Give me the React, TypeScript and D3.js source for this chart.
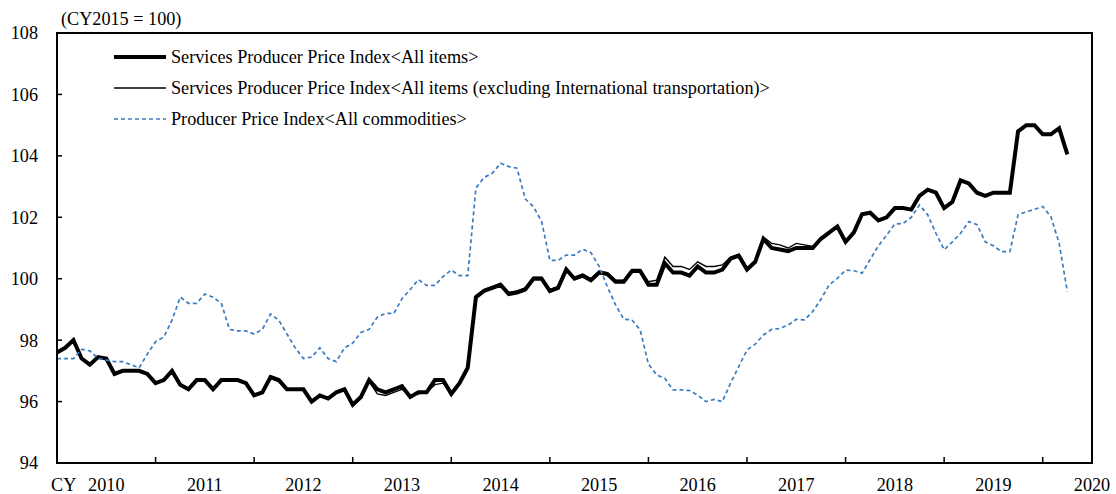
import React from "react";
import * as d3 from "d3";

const years = ["2010", "2011", "2012", "2013", "2014", "2015", "2016", "2017", "2018", "2019", "2020"];
const yTicks = [94, 96, 98, 100, 102, 104, 106, 108];

const seriesNames = [
  "Services Producer Price Index<All items>",
  "Services Producer Price Index<All items (excluding International transportation)>",
  "Producer Price Index<All commodities>",
];

// Monthly, Jan 2010 - Apr 2020
const sppiAll = [
  97.6, 97.75, 98.0, 97.4, 97.2, 97.45, 97.4, 96.9, 97.0, 97.0, 97.0, 96.9,
  96.6, 96.7, 97.0, 96.55, 96.4, 96.7, 96.7, 96.4, 96.7, 96.7, 96.7, 96.6,
  96.2, 96.3, 96.8, 96.7, 96.4, 96.4, 96.4, 96.0, 96.2, 96.1, 96.3, 96.4,
  95.9, 96.15, 96.7, 96.4, 96.3, 96.4, 96.5, 96.15, 96.3, 96.3, 96.7, 96.7,
  96.25, 96.6, 97.1, 99.4, 99.6, 99.7, 99.8, 99.5, 99.55, 99.65, 100.0, 100.0,
  99.6, 99.7, 100.3, 100.0, 100.1, 99.95, 100.2, 100.15, 99.9, 99.9, 100.25, 100.25,
  99.8, 99.8, 100.5, 100.2, 100.2, 100.1, 100.4, 100.2, 100.2, 100.3, 100.65, 100.75,
  100.3, 100.55, 101.3, 101.0, 100.95, 100.9, 101.0, 101.0, 101.0, 101.3, 101.5, 101.7,
  101.2, 101.5, 102.1, 102.15, 101.9, 102.0, 102.3, 102.3, 102.25, 102.7, 102.9, 102.8,
  102.3, 102.5, 103.2, 103.1, 102.8, 102.7, 102.8, 102.8, 102.8, 104.8, 105.0, 105.0,
  104.7, 104.7, 104.9, 104.05,
];

const sppiExIntl = [
  97.6, 97.75, 98.0, 97.4, 97.2, 97.45, 97.4, 96.9, 97.0, 97.0, 97.0, 96.9,
  96.6, 96.7, 97.0, 96.55, 96.4, 96.7, 96.7, 96.4, 96.7, 96.7, 96.7, 96.6,
  96.2, 96.3, 96.75, 96.65, 96.4, 96.4, 96.4, 96.0, 96.2, 96.1, 96.3, 96.4,
  95.9, 96.15, 96.65, 96.25, 96.2, 96.3, 96.4, 96.2, 96.25, 96.3, 96.55, 96.6,
  96.25, 96.6, 97.1, 99.45, 99.65, 99.75, 99.85, 99.55, 99.6, 99.7, 100.05, 100.05,
  99.65, 99.75, 100.3, 100.05, 100.15, 100.0, 100.25, 100.2, 99.95, 99.95, 100.3, 100.3,
  99.9, 99.95, 100.7, 100.4, 100.4, 100.3, 100.55, 100.4, 100.4, 100.45, 100.7, 100.8,
  100.35, 100.55, 101.35, 101.15, 101.1, 101.0, 101.15, 101.1, 101.05, 101.3, 101.5, 101.7,
  101.2, 101.5, 102.1, 102.15, 101.9, 102.0, 102.3, 102.3, 102.25, 102.7, 102.9, 102.8,
  102.3, 102.5, 103.2, 103.1, 102.8, 102.7, 102.8, 102.8, 102.8, 104.8, 105.0, 105.0,
  104.7, 104.7, 104.9, 104.05,
];

const ppiAll = [
  97.4, 97.4, 97.4, 97.7, 97.65, 97.4, 97.35, 97.3, 97.3, 97.2, 97.1, 97.55,
  97.95, 98.1, 98.65, 99.4, 99.2, 99.2, 99.5, 99.4, 99.2, 98.35, 98.3, 98.3,
  98.2, 98.35, 98.85, 98.65, 98.2, 97.75, 97.4, 97.45, 97.75, 97.4, 97.3, 97.75,
  97.9, 98.25, 98.35, 98.75, 98.87, 98.87, 99.35, 99.65, 99.97, 99.78, 99.78, 100.07,
  100.28, 100.1, 100.1, 102.95, 103.3, 103.43, 103.76, 103.65, 103.6, 102.6, 102.35, 101.86,
  100.6, 100.6, 100.77, 100.77, 100.96, 100.85, 100.4, 99.74, 99.15, 98.68, 98.66, 98.33,
  97.22, 96.87, 96.75, 96.38, 96.38, 96.36, 96.21, 96.0, 96.07, 96.0, 96.6, 97.14,
  97.68, 97.87, 98.17, 98.35, 98.38, 98.49, 98.68, 98.66, 98.93, 99.33, 99.8, 100.01,
  100.28, 100.26, 100.18, 100.63, 101.07, 101.42, 101.78, 101.8, 102.0, 102.4, 102.08, 101.48,
  100.94, 101.2, 101.48, 101.86, 101.76, 101.2, 101.07, 100.88, 100.88, 102.08, 102.18, 102.26,
  102.35, 102.02, 101.15, 99.58,
];

const W = 1116;
const H = 494;
const L = 57, R = 1092, T = 33, B = 463;
const FONT = "'Liberation Serif', 'Times New Roman', serif";
const BLUE = "#3a7cc2";
const FS = 18.2;

export default function App() {
  const x = d3.scaleLinear().domain([0, 126]).range([L, R]);
  const y = d3.scaleLinear().domain([94, 108]).range([B, T]);
  const line = d3
    .line<number>()
    .x((_, i) => x(i))
    .y((d) => y(d));

  const yearTicks = years.slice(1, 11).map((_, k) => (k + 1) * 12);

  const legend = [
    { name: seriesNames[0], w: 4, color: "#000", dash: undefined as string | undefined, yy: 57 },
    { name: seriesNames[1], w: 1.4, color: "#000", dash: undefined, yy: 88 },
    { name: seriesNames[2], w: 1.7, color: BLUE, dash: "4,3", yy: 119 },
  ];

  return (
    <div style={{ position: "absolute", left: 0, top: 0 }}>
      <svg width={W} height={H} style={{ display: "block", background: "#fff" }} fontFamily={FONT}>
        <rect x={0} y={0} width={W} height={H} fill="#fff" />
        {/* unit label */}
        <text x={61} y={25} fontSize={FS} fill="#000">(CY2015 = 100)</text>

        {/* y ticks & labels */}
        {yTicks.map((t) => (
          <g key={t}>
            <line x1={L} x2={L + 5} y1={y(t)} y2={y(t)} stroke="#000" strokeWidth={1.5} />
            <text x={38} y={y(t)} dy="0.35em" fontSize={FS} textAnchor="end" fill="#000">
              {t}
            </text>
          </g>
        ))}

        {/* x ticks */}
        {yearTicks.map((t) => (
          <line key={t} x1={x(t)} x2={x(t)} y1={B} y2={B - 6} stroke="#000" strokeWidth={1.5} />
        ))}
        {years.map((yr, k) => (
          <text key={yr} x={x(k * 12 + 6)} y={491} fontSize={FS} textAnchor="middle" fill="#000">
            {yr}
          </text>
        ))}
        <text x={51} y={491} fontSize={FS} fill="#000">CY</text>

        {/* series */}
        <path d={line(sppiAll) || ""} fill="none" stroke="#000" strokeWidth={4} strokeLinejoin="miter" />
        <path d={line(sppiExIntl) || ""} fill="none" stroke="#000" strokeWidth={1.4} />
        <path d={line(ppiAll) || ""} fill="none" stroke={BLUE} strokeWidth={1.7} strokeDasharray="4,3" />

        {/* frame */}
        <rect x={L} y={T} width={R - L} height={B - T} fill="none" stroke="#000" strokeWidth={2} />

        {/* legend */}
        {legend.map((lg) => (
          <g key={lg.name}>
            <line x1={114} x2={166} y1={lg.yy} y2={lg.yy} stroke={lg.color} strokeWidth={lg.w} strokeDasharray={lg.dash} />
            <text x={171} y={lg.yy} dy="0.33em" fontSize={FS} fill="#000">
              {lg.name}
            </text>
          </g>
        ))}
      </svg>
    </div>
  );
}
